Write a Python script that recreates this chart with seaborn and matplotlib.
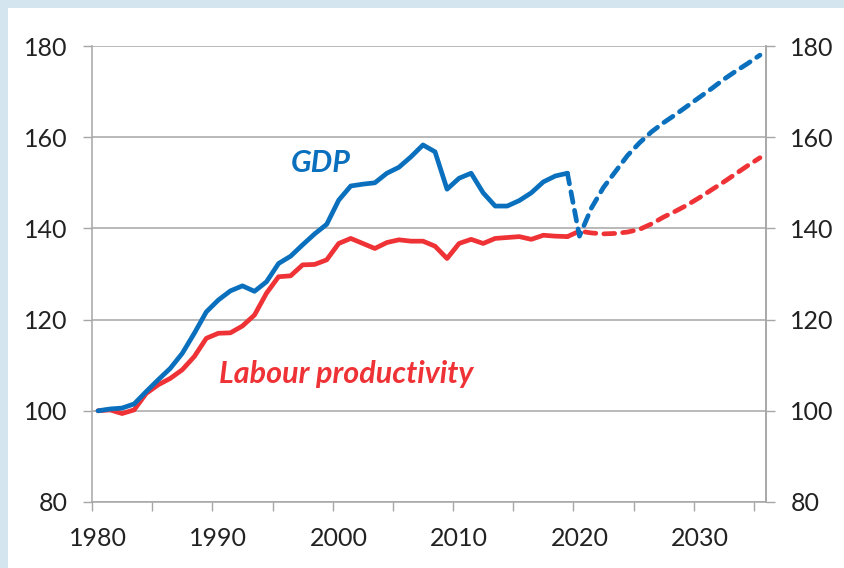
import matplotlib
matplotlib.use("Agg")
import matplotlib.pyplot as plt
import matplotlib.patches as mpatches
from matplotlib.ticker import FixedLocator
import numpy as np
import pandas as pd
import seaborn as sns

# index values, 1980 = 100
years_hist = list(range(1980, 2020))
gdp_hist = [100.0, 100.4, 100.6, 101.5, 104.2, 106.8, 109.3, 112.6, 117.0, 121.7,
            124.3, 126.3, 127.4, 126.2, 128.3, 132.3, 133.9, 136.4, 138.8, 140.9,
            146.2, 149.3, 149.7, 150.0, 152.1, 153.4, 155.7, 158.3, 156.8, 148.6,
            151.0, 152.1, 147.8, 144.9, 144.9, 146.1, 147.8, 150.2, 151.5, 152.1]
prod_hist = [100.0, 100.2, 99.4, 100.2, 103.8, 105.7, 107.1, 109.0, 111.9, 115.9,
             117.0, 117.1, 118.6, 121.0, 125.8, 129.4, 129.6, 132.0, 132.1, 133.1,
             136.7, 137.8, 136.7, 135.6, 136.9, 137.5, 137.2, 137.2, 136.1, 133.4,
             136.7, 137.6, 136.7, 137.8, 138.0, 138.2, 137.6, 138.5, 138.3, 138.2]

# projections 2020-2035
years_proj = list(range(2020, 2036))
gdp_proj = [138.3, 144.5, 149.0, 152.5, 156.0, 158.8, 161.2, 163.2,
            165.0, 166.9, 168.8, 170.7, 172.7, 174.5, 176.2, 178.0]
prod_proj = [139.4, 139.0, 138.8, 138.9, 139.2, 139.8, 141.0, 142.5,
             143.8, 145.2, 146.8, 148.5, 150.2, 152.0, 153.8, 155.5]

y_ticks = [80, 100, 120, 140, 160, 180]
x_labels = [1980, 1990, 2000, 2010, 2020, 2030]

BLUE = "#0a70bd"
RED = "#ee3235"
GRID = "#a6a6a6"
TXT = "#222222"

sns.set_theme(style="white")
plt.rcParams["font.family"] = ["Lato", "DejaVu Sans"]

hist = pd.DataFrame({"year": years_hist, "gdp": gdp_hist, "prod": prod_hist})
# dashed part starts from the last actual year
proj = pd.DataFrame({"year": years_hist[-1:] + years_proj,
                     "gdp": gdp_hist[-1:] + gdp_proj,
                     "prod": prod_hist[-1:] + prod_proj})

fig = plt.figure(figsize=(8.45, 5.68), dpi=100)
fig.patch.set_facecolor("#d5e5ef")
fig.patches.append(mpatches.Rectangle((8 / 845, 0), 1, 1 - 8 / 568,
                                      transform=fig.transFigure,
                                      facecolor="white", edgecolor="none", zorder=-10))

ax = fig.add_axes([92 / 845, 66 / 568, (766 - 92) / 845, (502 - 46) / 568])
ax.set_facecolor("white")

lw = 3.4
sns.lineplot(data=hist, x="year", y="prod", ax=ax, color=RED, lw=lw,
             solid_capstyle="round", solid_joinstyle="round", zorder=3)
sns.lineplot(data=hist, x="year", y="gdp", ax=ax, color=BLUE, lw=lw,
             solid_capstyle="round", solid_joinstyle="round", zorder=4)
l1 = sns.lineplot(data=proj, x="year", y="prod", ax=ax, color=RED, lw=lw, zorder=3).lines[-1]
l2 = sns.lineplot(data=proj, x="year", y="gdp", ax=ax, color=BLUE, lw=lw, zorder=4).lines[-1]
for ln in (l1, l2):
    ln.set_dashes((2.3, 1.7))
    ln.set_dash_capstyle("round")

ax.set_xlim(1979.5, 2035.5)
ax.set_ylim(80, 180)
ax.set_xlabel("")
ax.set_ylabel("")

# y grid and ticks
ax.set_yticks(y_ticks)
ax.grid(axis="y", color=GRID, lw=1.1, zorder=0)
ax.set_axisbelow(True)
ax.tick_params(axis="y", which="major", direction="out", length=6.5, width=1.0,
               color=GRID, labelsize=18, labelcolor=TXT, pad=11, left=True)

# x: labels at category centres, tick marks at category boundaries
ax.xaxis.set_major_locator(FixedLocator(x_labels))
ax.xaxis.set_minor_locator(FixedLocator(np.arange(1979.5, 2035, 5)))
ax.tick_params(axis="x", which="major", length=0, labelsize=18, labelcolor=TXT, pad=18)
ax.tick_params(axis="x", which="minor", direction="out", length=6.5, width=1.0,
               color=GRID, bottom=True)

for side in ["left", "bottom", "right"]:
    ax.spines[side].set_visible(True)
    ax.spines[side].set_color(GRID)
    ax.spines[side].set_linewidth(1.1)
ax.spines["top"].set_visible(False)

# secondary axis on the right, same scale
ax2 = ax.twinx()
ax2.set_ylim(80, 180)
ax2.set_yticks(y_ticks)
ax2.tick_params(axis="y", direction="out", length=6.5, width=1.0, color=GRID,
                labelsize=18, labelcolor=TXT, pad=11, right=True)
for side in ["left", "bottom", "top"]:
    ax2.spines[side].set_visible(False)
ax2.spines["right"].set_color(GRID)
ax2.spines["right"].set_linewidth(1.1)
ax2.grid(False)

ax.text(1998.5, 154.3, "GDP", color=BLUE, fontsize=22, fontweight="bold",
        fontstyle="italic", ha="center", va="center")
ax.text(2000.6, 108.1, "Labour productivity", color=RED, fontsize=22,
        fontweight="bold", fontstyle="italic", ha="center", va="center")

fig.savefig("out.png", dpi=100, facecolor=fig.get_facecolor())
